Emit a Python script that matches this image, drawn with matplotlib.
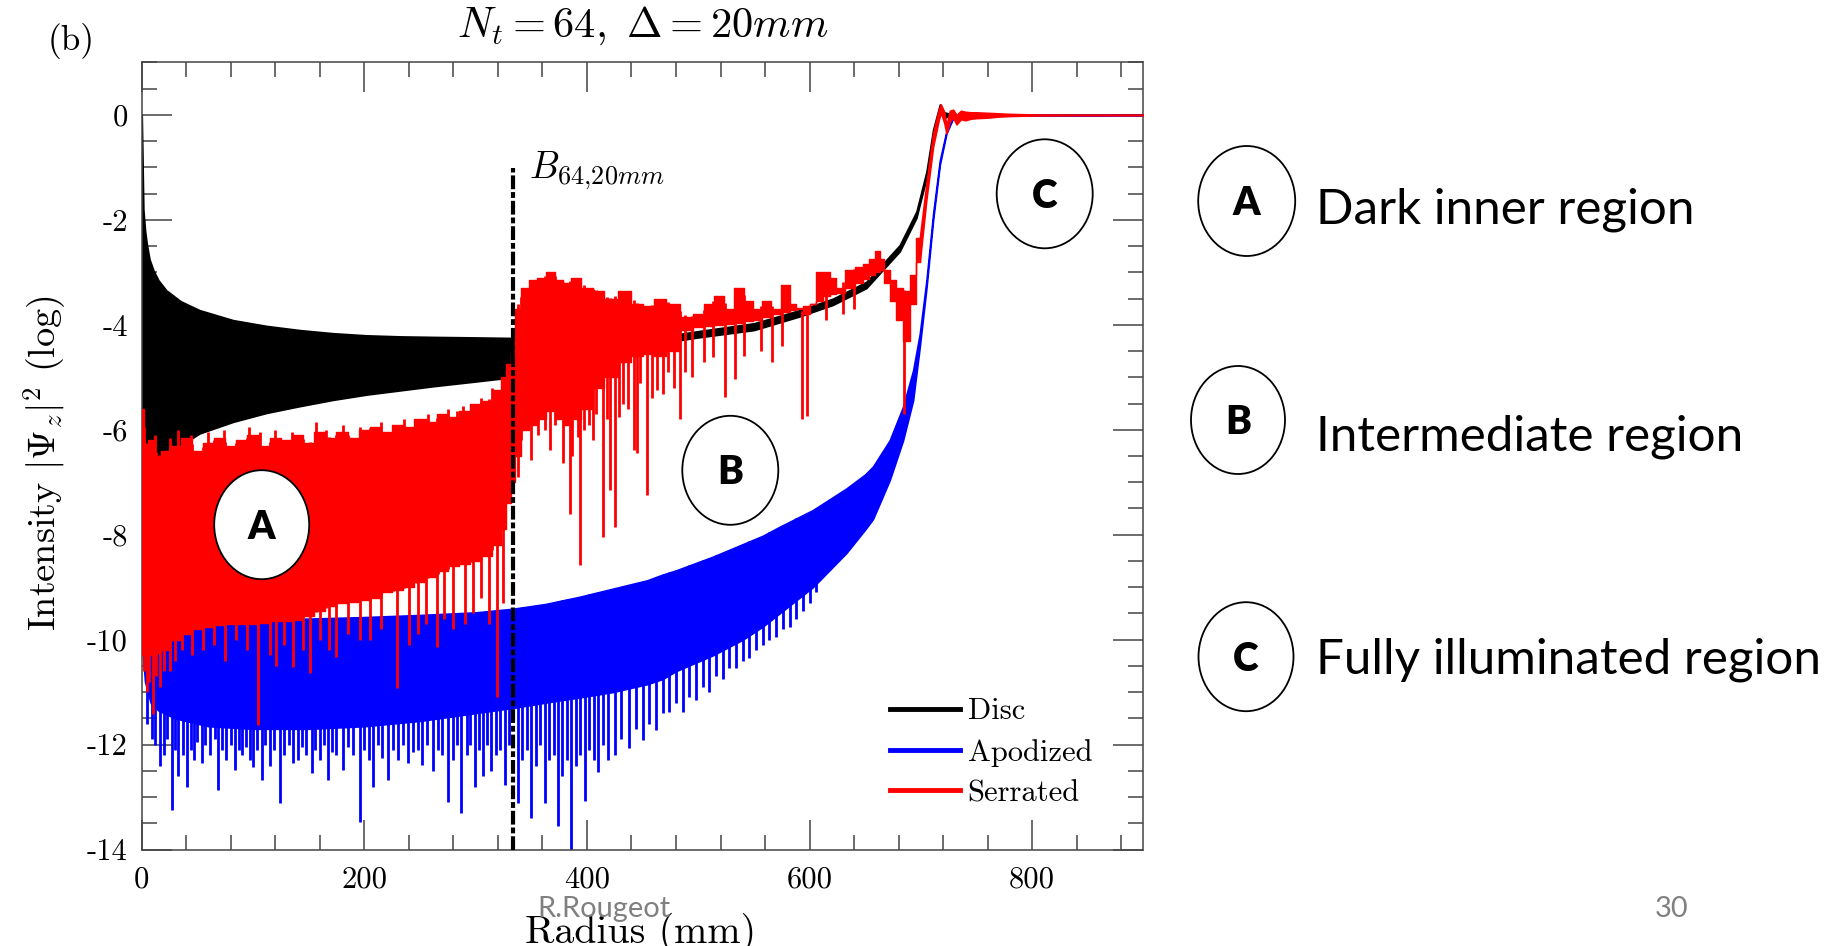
import numpy as np
import matplotlib
matplotlib.use("Agg")
import matplotlib.pyplot as plt
from matplotlib.patches import Ellipse
from matplotlib.lines import Line2D
from matplotlib.ticker import FixedLocator, MultipleLocator, FixedFormatter

plt.rcParams['font.family'] = 'cmr10'
plt.rcParams['mathtext.fontset'] = 'cm'
plt.rcParams['axes.unicode_minus'] = False

# ---------------- data ----------------
# Disc: envelope of the dense oscillation (radius mm, log10 intensity)
disc_r = [0, 0.5, 1.5, 3, 4.5, 7, 10.5, 15, 22, 35,
          52, 82, 112, 142, 172, 202, 232, 262, 300, 333,
          334, 360, 400, 450, 500, 550, 591, 621, 651, 681,
          696, 705, 711, 717, 721, 730, 900]
disc_hi = [0.0, -0.6, -1.8, -2.2, -2.45, -2.75, -2.96, -3.15, -3.34, -3.55,
           -3.72, -3.91, -4.02, -4.1, -4.16, -4.2, -4.22, -4.23, -4.24, -4.25,
           -4.25, -4.3, -4.33, -4.28, -4.12, -3.97, -3.72, -3.5, -3.18, -2.48,
           -1.84, -1.08, -0.28, 0.2, 0.05, 0.0, 0.0]
disc_lo = [-5.8, -5.9, -6.05, -6.2, -6.3, -6.4, -6.5, -6.55, -6.45, -6.3,
           -6.07, -5.85, -5.68, -5.55, -5.43, -5.33, -5.25, -5.17, -5.08, -5.0,
           -4.98, -4.6, -4.45, -4.4, -4.24, -4.1, -3.84, -3.62, -3.3, -2.6,
           -1.96, -1.2, -0.4, 0.08, -0.05, 0.0, 0.0]

# Serrated: envelope of the dense oscillation
red_r = [0, 1, 3, 8, 15, 20, 30, 40, 50, 60,
         70, 80, 90, 100, 110, 120, 130, 140, 150, 160,
         170, 180, 190, 200, 210, 220, 230, 240, 250, 260,
         270, 280, 290, 300, 310, 320, 325, 330, 334, 336,
         345, 350, 360, 367, 375, 382, 390, 400, 411, 420,
         435, 445, 456, 465, 477, 490, 501, 510, 519, 528,
         537, 545, 553, 561, 570, 579, 585, 591, 597, 603,
         609, 615, 621, 627, 636, 645, 651, 656, 661, 665,
         669, 675, 681, 687, 693, 699, 705, 711, 716, 718,
         721, 723, 726, 729, 732, 736, 740, 745, 750, 760,
         770, 780, 800, 900]
red_hi = [-5.6, -5.6, -6.3, -6.2, -6.5, -6.4, -6.3, -6.15, -6.4, -6.25,
          -6.15, -6.3, -6.2, -6.1, -6.3, -6.15, -6.2, -6.1, -6.25, -6.05,
          -6.15, -6.05, -6.15, -6.0, -5.95, -6.05, -5.9, -5.95, -5.8, -5.85,
          -5.7, -5.75, -5.65, -5.5, -5.45, -5.25, -5.0, -4.75, -4.55, -3.7,
          -3.3, -3.15, -3.1, -3.0, -3.15, -3.2, -3.1, -3.3, -3.35, -3.5,
          -3.35, -3.6, -3.65, -3.5, -3.6, -3.85, -3.8, -3.6, -3.45, -3.7,
          -3.3, -3.55, -3.7, -3.55, -3.7, -3.25, -3.6, -3.7, -3.8, -3.6,
          -3.0, -3.0, -3.1, -3.3, -2.95, -2.9, -2.85, -2.75, -2.6, -2.75,
          -2.95, -3.15, -3.3, -3.35, -3.05, -2.35, -1.3, -0.35, 0.1, 0.2,
          0.05, -0.2, 0.08, 0.1, 0.0, 0.08, 0.06, 0.05, 0.05, 0.04,
          0.03, 0.02, 0.01, 0.0]
red_lo = [-10.2, -10.3, -10.3, -10.3, -10.25, -10.2, -10.0, -9.9, -9.8, -9.75,
          -9.72, -9.7, -9.7, -9.7, -9.68, -9.65, -9.65, -9.62, -9.55, -9.45,
          -9.35, -9.3, -9.28, -9.25, -9.2, -9.1, -9.05, -9.0, -8.9, -8.8,
          -8.7, -8.6, -8.55, -8.5, -8.4, -8.2, -7.9, -7.4, -7.0, -6.5,
          -6.0, -5.9, -5.8, -5.65, -5.8, -5.9, -5.8, -5.6, -5.2, -5.0,
          -4.7, -4.6, -4.55, -4.6, -4.5, -4.1, -4.05, -4.02, -4.0, -3.98,
          -3.96, -3.93, -3.9, -3.85, -3.8, -3.75, -3.72, -3.68, -3.65, -3.6,
          -3.55, -3.45, -3.42, -3.4, -3.3, -3.2, -3.12, -3.05, -3.0, -2.95,
          -3.2, -3.55, -3.9, -4.3, -3.6, -2.8, -1.6, -0.6, -0.1, 0.05,
          -0.15, -0.35, -0.12, -0.05, -0.18, -0.08, -0.1, -0.07, -0.06, -0.05,
          -0.03, -0.02, -0.01, 0.0]
# Serrated: upward teeth on the upper edge, inner region (radius, top)
red_peak_r = [12, 25, 33, 44, 60, 74, 96, 106, 120, 135, 157, 166, 181, 196,
              215, 226, 236, 247, 257, 266, 275, 283, 289, 297, 305, 315]
red_peak_v = [-6.1, -6.15, -6.0, -6.1, -6.05, -6.0, -5.95, -6.05, -6.0, -6.05, -5.85, -6.0, -5.9, -5.95,
              -5.85, -5.9, -5.8, -5.85, -5.7, -5.75, -5.6, -5.65, -5.55, -5.5, -5.4, -5.2]
# Serrated: downward spikes (radius, depth)
red_spike_r = [2, 5, 7, 10.4, 13, 16.4, 20, 25, 30, 36,
               45, 55, 65, 75, 85, 95, 104.7, 115, 121, 128,
               136, 145, 151, 160, 168, 175, 185, 196, 205, 215,
               229, 240, 248, 255, 265, 272, 280, 290, 298, 305,
               312, 319, 325,
               338, 341, 344, 350, 356, 362, 366.6, 371, 378.6, 384.6,
               387, 392, 393.6, 397, 402, 405, 408, 414.5, 418, 421,
               425, 428.5, 432, 437, 442, 444.7, 448, 453.7, 458, 462.7,
               468.7, 473, 478, 483.6, 488, 494, 505, 513, 524, 533,
               541, 556, 566, 575, 593, 597.6, 615, 630, 640, 684.5]
red_spike_v = [-10.6, -11.0, -10.8, -11.41, -10.7, -10.9, -10.6, -10.6, -10.4, -10.2,
               -10.3, -10.2, -10.1, -10.4, -10.0, -10.2, -11.63, -10.3, -10.5, -10.1,
               -10.52, -10.2, -10.64, -10.0, -10.2, -10.33, -9.9, -10.0, -10.0, -9.8,
               -10.93, -10.1, -9.9, -9.7, -10.14, -9.6, -9.8, -9.7, -9.5, -9.2,
               -9.7, -11.09, -9.3,
               -6.9, -6.2, -5.9, -6.58, -6.1, -6.0, -6.39, -5.9, -6.64, -7.6,
               -6.5, -6.14, -8.58, -6.0, -5.9, -6.2, -5.7, -8.04, -5.8, -7.15,
               -7.85, -5.75, -5.5, -5.6, -6.39, -6.45, -5.1, -7.25, -5.4, -5.25,
               -5.31, -4.9, -5.2, -5.79, -4.9, -5.0, -4.7, -4.61, -5.38, -5.03,
               -4.6, -4.5, -4.7, -4.4, -5.79, -5.73, -3.9, -3.8, -3.7, -5.69]

# Apodized: envelope of the dense oscillation
blue_r = [0, 3, 8, 15, 30, 60, 100, 150, 200, 250,
          300, 334, 363, 394, 423, 454, 468, 480, 513, 540,
          558, 573, 603, 633, 650, 657, 672, 684, 693, 699,
          705, 711, 717, 723, 729, 735, 900]
blue_hi = [-9.6, -9.7, -9.7, -9.68, -9.66, -9.65, -9.62, -9.6, -9.57, -9.53,
           -9.48, -9.41, -9.32, -9.18, -9.03, -8.87, -8.76, -8.68, -8.42, -8.18,
           -8.02, -7.85, -7.53, -7.12, -6.85, -6.7, -6.2, -5.56, -4.87, -4.17,
           -3.15, -1.88, -0.87, -0.3, -0.04, 0.0, 0.0]
blue_lo = [-10.0, -10.8, -11.2, -11.35, -11.5, -11.65, -11.7, -11.7, -11.65, -11.55,
           -11.4, -11.3, -11.2, -11.1, -11.0, -10.85, -10.75, -10.6, -10.3, -10.0,
           -9.75, -9.5, -9.0, -8.35, -7.9, -7.7, -6.96, -6.2, -5.44, -4.42,
           -3.3, -2.0, -0.95, -0.35, -0.06, -0.01, 0.0]
# Apodized: downward spikes (radius, depth)
blue_spike_r = [5, 9, 12, 16, 20, 23, 26.9, 30, 33, 37,
                40.4, 44, 47, 50, 53.8, 57, 61, 65.8, 68.8, 72,
                76, 80, 83.8, 87, 90, 94, 97, 100.2, 104, 107.7,
                111, 115, 119, 124, 128, 132, 136, 140, 144, 148,
                152.6, 156, 160, 164, 167.6, 171, 175, 181, 185, 190,
                196, 200, 204, 208, 212, 216, 221.5, 226, 230, 235,
                239.4, 244, 248, 251.4, 256, 262, 266, 270, 275, 280,
                283, 287, 292, 295, 299, 303, 307, 310, 314, 318,
                322, 326, 330, 338, 342, 346, 350, 354, 358, 362,
                366, 370, 374, 378, 382, 386, 390, 394, 398, 402,
                406, 410, 414, 419, 425, 431, 438, 444, 450, 456,
                462, 468, 474, 480, 486, 492, 498, 504, 510, 516,
                522, 528, 534, 540, 546, 552, 558, 564, 570, 576,
                582, 588, 594, 600, 606]
blue_spike_v = [-11.6, -11.9, -12.0, -12.4, -12.2, -11.9, -13.25, -12.1, -12.6, -12.2,
                -12.8, -12.1, -12.3, -11.95, -12.36, -12.0, -12.2, -11.9, -12.87, -12.1,
                -12.3, -12.0, -12.49, -12.1, -12.2, -12.05, -12.3, -12.42, -12.1, -12.68,
                -12.0, -12.4, -12.1, -13.12, -12.2, -12.0, -12.35, -12.3, -12.05, -12.2,
                -12.55, -12.1, -12.3, -12.0, -12.68, -12.15, -12.2, -12.49, -12.05, -12.2,
                -13.47, -12.1, -12.3, -12.8, -12.0, -12.25, -12.68, -12.1, -12.3, -12.0,
                -12.36, -12.15, -12.1, -12.39, -12.0, -12.5, -12.1, -12.2, -13.09, -12.3,
                -12.0, -13.31, -12.2, -12.0, -12.8, -12.1, -12.6, -12.0, -12.5, -12.2,
                -12.1, -12.77, -12.0, -13.12, -12.3, -12.1, -13.4, -12.4, -12.0, -13.12,
                -12.3, -12.2, -13.56, -12.6, -12.3, -14.0, -12.4, -12.2, -13.08, -12.1,
                -12.3, -12.52, -12.0, -12.3, -12.2, -11.9, -12.07, -11.7, -11.91, -11.6,
                -11.72, -11.4, -11.37, -11.2, -11.37, -11.1, -11.15, -10.9, -10.99, -10.7,
                -10.75, -10.55, -10.55, -10.4, -10.35, -10.2, -10.1, -10.0, -9.95, -9.8,
                -9.75, -9.6, -9.45, -9.3, -9.1]

boundary_r = 334          # B_{64,20mm}
boundary_top = -1.02

x_major = [0, 200, 400, 600, 800]
y_major = [0, -2, -4, -6, -8, -10, -12, -14]
legend_labels = ['Disc', 'Apodized', 'Serrated']

# ---------------- figure ----------------
W, H = 1849, 946
fig = plt.figure(figsize=(W / 100, H / 100), dpi=100)
fig.patch.set_facecolor('white')
ax = fig.add_axes([141.7 / W, 1 - 849.5 / H, (1143.5 - 141.7) / W, (849.5 - 62.5) / H])

def px(x, y):
    return x / W, 1 - y / H

RED, BLUE, BLACK = '#ff0000', '#0000ff', '#000000'

ax.fill_between(disc_r, disc_lo, disc_hi, color=BLACK, lw=1.2, zorder=2)

ax.fill_between(blue_r, blue_lo, blue_hi, color=BLUE, lw=1.2, zorder=2.5)
bb = np.interp(blue_spike_r, blue_r, blue_hi)
ax.vlines(blue_spike_r, blue_spike_v, bb, color=BLUE, lw=2.0, zorder=2.5)

rr = np.asarray(red_r, float)
rh = np.asarray(red_hi)
rl = np.asarray(red_lo)
k = int(np.searchsorted(rr, 699)) + 1
ax.fill_between(rr[:k], rl[:k], rh[:k], step='mid', color=RED, lw=1.0, zorder=3)
ax.fill_between(rr[k - 1:], rl[k - 1:], rh[k - 1:], color=RED, lw=1.2, zorder=3)
pb_ = np.interp(red_peak_r, red_r, red_lo)
ax.vlines(red_peak_r, pb_, red_peak_v, color=RED, lw=2.0, zorder=3)
rb = np.interp(red_spike_r, red_r, red_hi)
ax.vlines(red_spike_r, red_spike_v, rb, color=RED, lw=2.0, zorder=3)

ax.plot([boundary_r, boundary_r], [-14, boundary_top], color=BLACK, lw=3.0,
        dashes=(3.3, 0.7, 1.4, 0.7), zorder=4)
ax.text(348, -1.21, r'$B_{64{,}20mm}$', fontsize=27, ha='left', va='baseline')

ax.set_xlim(0, 900)
ax.set_ylim(-14, 1)
ax.xaxis.set_major_locator(FixedLocator(x_major))
ax.xaxis.set_major_formatter(FixedFormatter([str(v) for v in x_major]))
ax.xaxis.set_minor_locator(MultipleLocator(40))
ax.yaxis.set_major_locator(FixedLocator(y_major))
ax.yaxis.set_major_formatter(FixedFormatter([str(v) for v in y_major]))
ax.yaxis.set_minor_locator(MultipleLocator(0.5))
ax.tick_params(which='both', direction='in', top=True, right=True, colors='#444444',
               labelcolor='black', width=1.1, labelsize=22)
ax.tick_params(which='major', length=21.5)
ax.tick_params(which='minor', length=10.8)
ax.tick_params(axis='x', pad=12)
ax.tick_params(axis='y', pad=10)
for s in ax.spines.values():
    s.set_color('#444444')
    s.set_linewidth(1.1)

handles = [Line2D([], [], color=c, lw=3.5) for c in (BLACK, BLUE, RED)]
ax.legend(handles, legend_labels, loc='upper left', bbox_to_anchor=px(890, 698),
          bbox_transform=fig.transFigure, frameon=False, fontsize=22,
          handlelength=2.29, handletextpad=0.25, labelspacing=0.43,
          borderpad=0, borderaxespad=0)

renderer = fig.canvas.get_renderer()

def fit(t, target, vertical=False):
    ext = t.get_window_extent(renderer=renderer)
    cur = ext.height if vertical else ext.width
    t.set_fontsize(t.get_fontsize() * target / cur)

title = fig.text(*px(643, 26), r'$N_t = 64,\ \Delta = 20mm$', ha='center', va='center', fontsize=26)
fit(title, 372)
pb = fig.text(*px(71, 41), '(b)', ha='center', va='center', fontsize=22)
fit(pb, 47)
yl = fig.text(*px(45, 463), r'Intensity $|\Psi_z|^2$ (log)', rotation=90,
              ha='center', va='center', fontsize=26)
fit(yl, 336, vertical=True)
xl = fig.text(*px(641, 943), 'Radius (mm)', ha='center', va='baseline', fontsize=28)
fit(xl, 231)

# slide annotations
g1 = fig.text(*px(604, 909), 'R.Rougeot', ha='center', va='center', family='Lato',
              color='#808080', fontsize=16)
fit(g1, 133)
fig.text(*px(1672, 909), '30', ha='center', va='center', family='Lato',
         color='#808080', fontsize=g1.get_fontsize())

region_texts = ['Dark inner region', 'Intermediate region', 'Fully illuminated region']
region_base = [223, 450, 674]
ts = [fig.text(*px(1316, b), s, ha='left', va='baseline', family='Lato', fontsize=36)
      for s, b in zip(region_texts, region_base)]
fit(ts[2], 506)
for t in ts[:2]:
    t.set_fontsize(ts[2].get_fontsize())

ellipses = [('A', 261.7, 524.7, 95, 109), ('B', 730.3, 470.3, 96, 109),
            ('C', 1044.7, 193.8, 96, 109), ('A', 1246.7, 201, 97, 110),
            ('B', 1238, 420, 94, 108), ('C', 1246, 656.7, 95, 109)]
for letter, cx, cy, w, h in ellipses:
    e = Ellipse(px(cx, cy), w / W, h / H, transform=fig.transFigure,
                facecolor='white', edgecolor='black', lw=1.3, zorder=10)
    fig.add_artist(e)
    fig.text(*px(cx, cy + 14), letter, ha='center', va='baseline', family='Lato',
             fontweight='heavy', fontsize=28, zorder=11)

fig.savefig('out.png', dpi=100)
